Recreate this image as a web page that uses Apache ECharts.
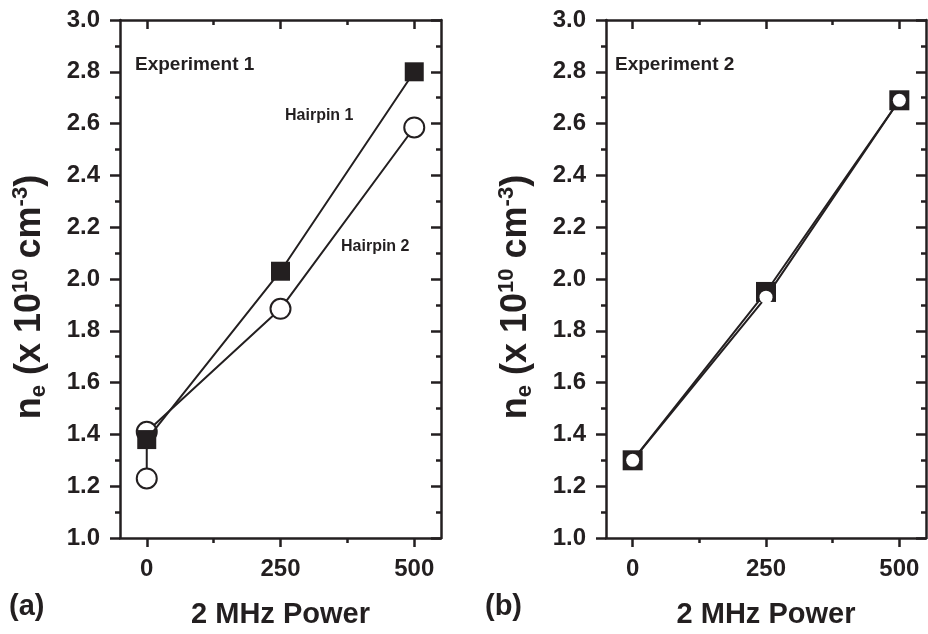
<!DOCTYPE html>
<html><head><meta charset="utf-8">
<script src="https://cdn.jsdelivr.net/npm/echarts@6/dist/echarts.min.js"></script>
<style>html,body{margin:0;padding:0;background:#fff}#c{width:928px;height:634px}</style>
</head><body><div id="c"></div>
<script>
// ---- data ----
const power = [0, 250, 500];
const exp1Hairpin1 = [1.38, 2.03, 2.80];
const exp1Hairpin2Power = [0, 0, 250, 500];
const exp1Hairpin2 = [1.23, 1.41, 1.885, 2.585];
const exp2Hairpin1 = [1.30, 1.95, 2.69];
const exp2Hairpin2 = [1.30, 1.93, 2.69];
const xMajorTicks = [0, 250, 500];
const xMinorTicks = [125, 375];
const panelTitles = ['Experiment 1', 'Experiment 2'];
const panelLetters = ['(a)', '(b)'];
const seriesNames = ['Hairpin 1', 'Hairpin 2'];
const xTitle = '2 MHz Power';

const INK = '#231f20';
const FONT = "'Liberation Sans', Arial, sans-serif";
const grids = [
  {left: 120, top: 20, width: 321, height: 518},
  {left: 606, top: 20, width: 320, height: 518}
];

function xAxesFor(g) {
  const base = {type: 'value', gridIndex: g, min: -50, max: 550, splitLine: {show: false}};
  return [
    Object.assign({}, base, {position: 'bottom',
      axisLine: {show: true, onZero: false, lineStyle: {color: INK, width: 2.5}},
      axisTick: {show: true, customValues: xMajorTicks, length: 9, lineStyle: {color: INK, width: 2.5}},
      axisLabel: {show: true, customValues: xMajorTicks, margin: 19, color: INK, fontSize: 24, fontWeight: 'bold', fontFamily: FONT},
      name: xTitle, nameLocation: 'middle', nameGap: 62,
      nameTextStyle: {color: INK, fontSize: 29, fontWeight: 'bold', fontFamily: FONT}}),
    Object.assign({}, base, {position: 'bottom',
      axisLine: {show: false},
      axisTick: {show: true, customValues: xMinorTicks, length: 5, lineStyle: {color: INK, width: 2.5}},
      axisLabel: {show: false}}),
    Object.assign({}, base, {position: 'top',
      axisLine: {show: true, onZero: false, lineStyle: {color: INK, width: 2.5}},
      axisTick: {show: true, inside: true, customValues: xMajorTicks, length: 9, lineStyle: {color: INK, width: 2.5}},
      axisLabel: {show: false}}),
    Object.assign({}, base, {position: 'top',
      axisLine: {show: false},
      axisTick: {show: true, inside: true, customValues: xMinorTicks, length: 5, lineStyle: {color: INK, width: 2.5}},
      axisLabel: {show: false}})
  ];
}
const yName = '{n|n}{s|e}{n| (x 10}{p|10}{n| cm}{p|-3}{n|)}';
function yAxesFor(g) {
  const base = {type: 'value', gridIndex: g, min: 1.0, max: 3.0, interval: 0.2, splitLine: {show: false}};
  return [
    Object.assign({}, base, {position: 'left',
      axisLine: {show: true, onZero: false, lineStyle: {color: INK, width: 2.5}},
      axisTick: {show: true, length: 10, lineStyle: {color: INK, width: 2.5}},
      minorTick: {show: true, splitNumber: 2, length: 5, lineStyle: {color: INK, width: 2.5}},
      axisLabel: {show: true, margin: 20, color: INK, fontSize: 24, fontWeight: 'bold', fontFamily: FONT,
        formatter: v => v.toFixed(1)},
      name: yName, nameLocation: 'middle', nameGap: 68, nameRotate: 90,
      nameTextStyle: {color: INK, fontWeight: 'bold', fontFamily: FONT, padding: [0, 36, 0, 0],
        rich: {
          n: {fontSize: 36, fontWeight: 'bold', fontFamily: FONT, color: INK, lineHeight: 44, verticalAlign: 'middle'},
          s: {fontSize: 22, fontWeight: 'bold', fontFamily: FONT, color: INK, lineHeight: 44, verticalAlign: 'bottom', padding: [0, 0, 2, 0]},
          p: {fontSize: 22, fontWeight: 'bold', fontFamily: FONT, color: INK, lineHeight: 44, verticalAlign: 'top', padding: [2, 0, 0, 0]}
        }}}),
    Object.assign({}, base, {position: 'right',
      axisLine: {show: true, onZero: false, lineStyle: {color: INK, width: 2.5}},
      axisTick: {show: true, inside: true, length: 10, lineStyle: {color: INK, width: 2.5}},
      minorTick: {show: true, splitNumber: 2, length: 5, lineStyle: {color: INK, width: 2.5}},
      axisLabel: {show: false}})
  ];
}

const xAxis = [].concat(xAxesFor(0), xAxesFor(1));
const yAxis = [].concat(yAxesFor(0), yAxesFor(1));

function pairs(xs, ys) { return ys.map((v, i) => [xs[i], v]); }

const series = [
  {name: seriesNames[1], type: 'line', xAxisIndex: 0, yAxisIndex: 0,
   data: pairs(exp1Hairpin2Power, exp1Hairpin2), symbol: 'circle', symbolSize: 20,
   lineStyle: {color: INK, width: 2}, itemStyle: {color: '#fff', borderColor: INK, borderWidth: 2},
   z: 2, animation: false},
  {name: seriesNames[0], type: 'line', xAxisIndex: 0, yAxisIndex: 0,
   data: pairs(power, exp1Hairpin1), symbol: 'rect', symbolSize: 19,
   lineStyle: {color: INK, width: 2}, itemStyle: {color: INK, borderWidth: 0},
   z: 3, animation: false},
  {name: seriesNames[0], type: 'line', xAxisIndex: 4, yAxisIndex: 2,
   data: pairs(power, exp2Hairpin1), symbol: 'rect', symbolSize: 20,
   lineStyle: {color: INK, width: 2}, itemStyle: {color: INK, borderWidth: 0},
   z: 2, animation: false},
  {name: seriesNames[1], type: 'line', xAxisIndex: 4, yAxisIndex: 2,
   data: pairs(power, exp2Hairpin2), symbol: 'circle', symbolSize: 13,
   lineStyle: {color: INK, width: 2}, itemStyle: {color: '#fff', borderWidth: 0},
   z: 3, animation: false}
];

const txt = (x, y, s, size) => ({type: 'text', left: x, top: y, z: 10,
  style: {text: s, fill: INK, font: 'bold ' + size + 'px ' + FONT}});

const option = {
  animation: false,
  grid: grids,
  xAxis: xAxis,
  yAxis: yAxis,
  series: series,
  graphic: [
    txt(135, 55, panelTitles[0], 19),
    txt(615, 55, panelTitles[1], 19),
    txt(285, 108, seriesNames[0], 16),
    txt(341, 239, seriesNames[1], 16),
    txt(9, 592, panelLetters[0], 29),
    txt(485, 592, panelLetters[1], 29)
  ]
};
const chart = echarts.init(document.getElementById('c'), null, {renderer: 'canvas'});
chart.setOption(option);
</script></body></html>
